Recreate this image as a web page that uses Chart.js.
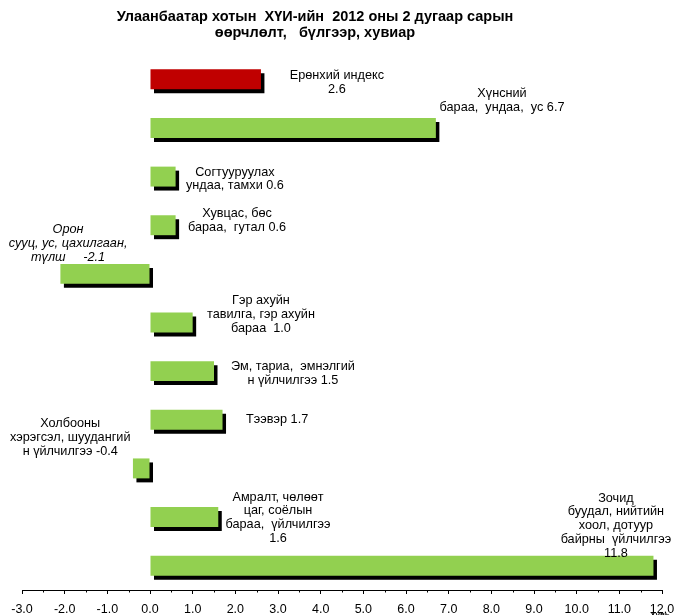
<!DOCTYPE html>
<html>
<head>
<meta charset="utf-8">
<script src="https://cdn.jsdelivr.net/npm/chart.js@4"></script>
<style>
    body { margin: 0; background: #fff; }
    #chart { display: block; }
</style>
</head>
<body>
<canvas id="chart" width="676" height="615"></canvas>
<script>
// Chart data
const categories = [
    'Ерөнхий индекс',
    'Хүнсний бараа, ундаа, ус',
    'Согтууруулах ундаа, тамхи',
    'Хувцас, бөс бараа, гутал',
    'Орон сууц, ус, цахилгаан, түлш',
    'Гэр ахуйн тавилга, гэр ахуйн бараа',
    'Эм, тариа, эмнэлгийн үйлчилгээ',
    'Тээвэр',
    'Холбооны хэрэгсэл, шуудангийн үйлчилгээ',
    'Амралт, чөлөөт цаг, соёлын бараа, үйлчилгээ',
    'Зочид буудал, нийтийн хоол, дотуур байрны үйлчилгээ'
];
const values = [2.6, 6.7, 0.6, 0.6, -2.1, 1.0, 1.5, 1.7, -0.4, 1.6, 11.8];

// Text shown next to each bar
const labelLines = [
    ['Ерөнхий индекс', '2.6'],
    ['Хүнсний', 'бараа,  ундаа,  ус 6.7'],
    ['Согтууруулах', 'ундаа, тамхи 0.6'],
    ['Хувцас, бөс', 'бараа,  гутал 0.6'],
    ['Орон', 'сууц, ус, цахилгаан,', 'түлш     -2.1'],
    ['Гэр ахуйн', 'тавилга, гэр ахуйн', 'бараа  1.0'],
    ['Эм, тариа,  эмнэлгий', 'н үйлчилгээ 1.5'],
    ['Тээвэр 1.7'],
    ['Холбооны', 'хэрэгсэл, шуудангий', 'н үйлчилгээ -0.4'],
    ['Амралт, чөлөөт', 'цаг, соёлын', 'бараа,  үйлчилгээ', '1.6'],
    ['Зочид', 'буудал, нийтийн', 'хоол, дотуур', 'байрны  үйлчилгээ', '11.8']
];

const titleLines = ['Улаанбаатар хотын  ХҮИ-ийн  2012 оны 2 дугаар сарын', 'өөрчлөлт,   бүлгээр, хувиар'];
const axisUnit = 'Хувь';

const xMin = -3;
const xMax = 12;

const FONT = '"Liberation Sans", Arial, sans-serif';

// Label anchor: [x value, y offset of first line from bar centre]
const labelPlace = [
    [4.38, -3.5], [8.25, -34], [1.99, -4.5], [2.04, -12], [-1.92, -44.5],
    [2.6, -22], [3.35, -4.5], [2.98, 0], [-1.87, -44.5], [3.0, -20], [10.92, -67.5]
];

// Draw black drop shadow under bars
const shadowPlugin = {
    id: 'barShadow',
    beforeDatasetsDraw(chart) {
        const ctx = chart.ctx;
        const dpr = chart.currentDevicePixelRatio || 1;
        ctx.save();
        ctx.shadowColor = '#000';
        ctx.shadowBlur = 0;
        ctx.shadowOffsetX = 3.5 * dpr;
        ctx.shadowOffsetY = 4 * dpr;
    },
    afterDatasetsDraw(chart) {
        chart.ctx.restore();
    }
};

// Title, bar labels, minor ticks
const textPlugin = {
    id: 'texts',
    afterDraw(chart) {
        const ctx = chart.ctx;
        const xs = chart.scales.x;
        const ys = chart.scales.y;
        ctx.save();
        ctx.fillStyle = '#000';
        ctx.textAlign = 'center';
        ctx.textBaseline = 'middle';

        // title
        ctx.font = 'bold 14.5px ' + FONT;
        ctx.fillText(titleLines[0], 315, 17);
        ctx.fillText(titleLines[1], 315, 33);

        // bar labels
        labelLines.forEach((lines, i) => {
            const cx = xs.getPixelForValue(labelPlace[i][0]);
            const cy = ys.getPixelForValue(i) + labelPlace[i][1];
            ctx.font = (i === 4 ? 'italic ' : '') + '12.7px ' + FONT;
            lines.forEach((line, j) => {
                ctx.fillText(line, cx, cy + j * 13.8);
            });
        });

        // minor ticks
        ctx.strokeStyle = '#000';
        ctx.lineWidth = 1;
        for (let v = xMin + 0.5; v < xMax; v += 1) {
            const px = Math.round(xs.getPixelForValue(v)) + 0.5;
            ctx.beginPath();
            ctx.moveTo(px, xs.top);
            ctx.lineTo(px, xs.top + 2.5);
            ctx.stroke();
        }

        // unit
        ctx.font = 'bold 8px ' + FONT;
        ctx.fillText(axisUnit, xs.getPixelForValue(xMax) - 2, 615);
        ctx.restore();
    }
};

const ctx = document.getElementById('chart');
new Chart(ctx, {
    type: 'bar',
    data: {
        labels: categories,
        datasets: [{
            data: values,
            backgroundColor: values.map((v, i) => i === 0 ? '#C00000' : '#92D050'),
            borderWidth: 0,
            barPercentage: 0.41,
            categoryPercentage: 1
        }]
    },
    options: {
        indexAxis: 'y',
        responsive: false,
        animation: false,
        layout: {
            padding: { left: 22, right: 14, top: 55, bottom: -10 }
        },
        plugins: {
            legend: { display: false },
            tooltip: { enabled: false },
            title: { display: false }
        },
        scales: {
            x: {
                type: 'linear',
                position: 'bottom',
                min: xMin,
                max: xMax,
                afterFit(scale) {
                    // let the last tick label hang into the layout padding
                    scale.paddingLeft = 0;
                    scale.paddingRight = 0;
                },
                ticks: {
                    stepSize: 1,
                    autoSkip: false,
                    maxRotation: 0,
                    padding: 8,
                    color: '#000',
                    font: { family: FONT, size: 12.5 },
                    callback: v => v.toFixed(1)
                },
                grid: {
                    drawOnChartArea: false,
                    drawTicks: true,
                    tickLength: 4,
                    color: '#000'
                },
                border: { display: true, color: '#000', width: 1 }
            },
            y: {
                display: false
            }
        }
    },
    plugins: [shadowPlugin, textPlugin]
});
</script>
</body>
</html>
